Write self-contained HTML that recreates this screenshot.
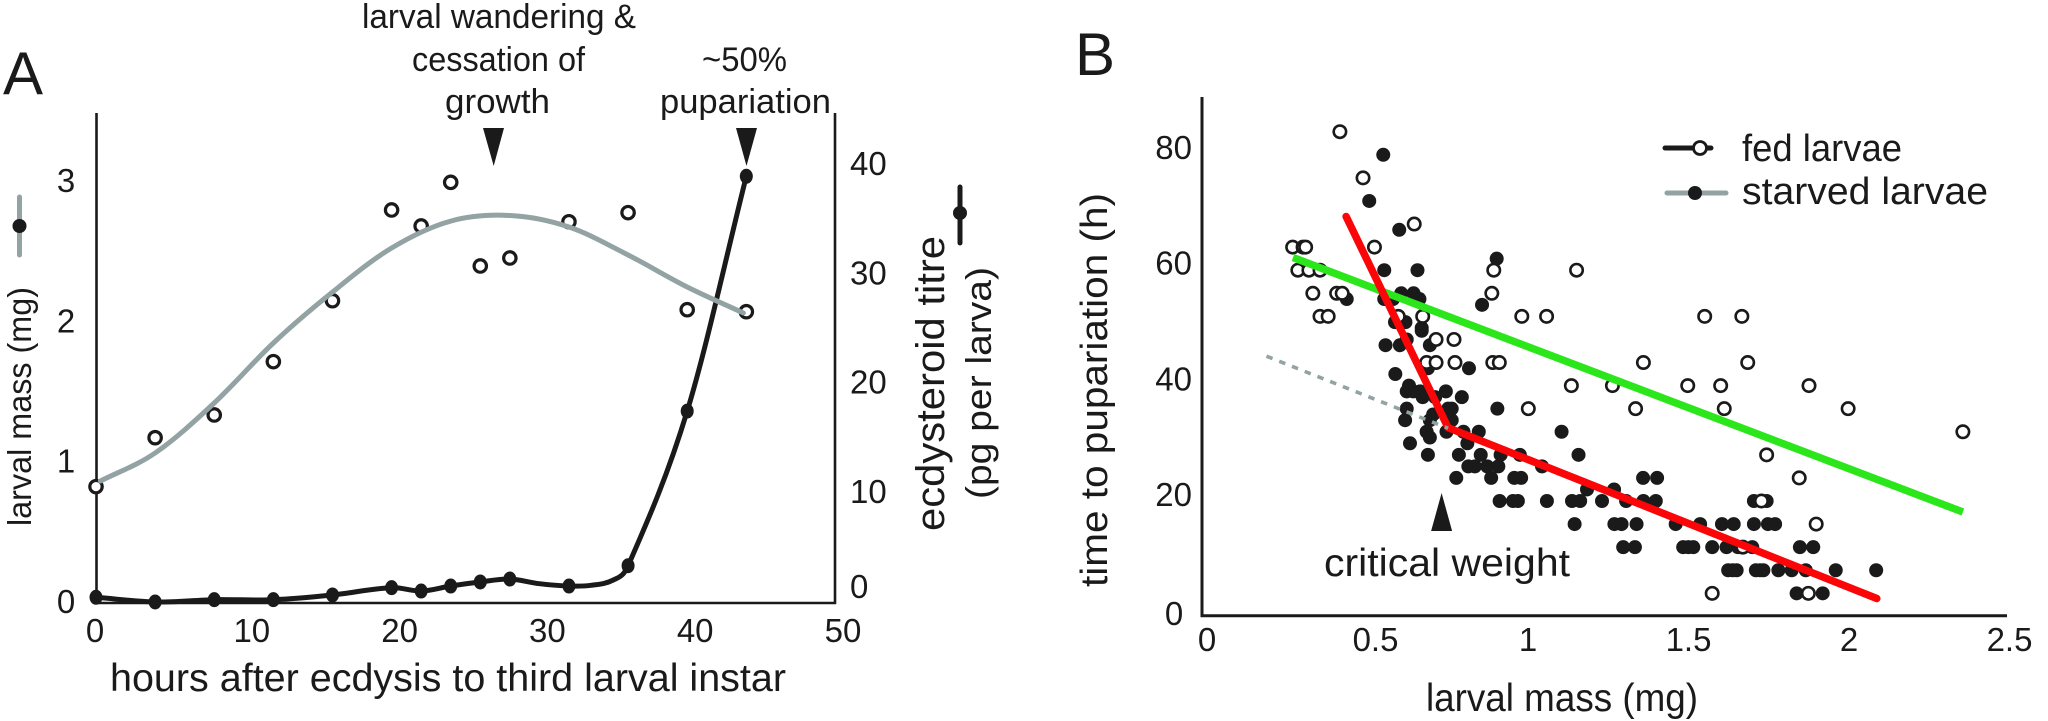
<!DOCTYPE html>
<html lang="en">
<head>
<meta charset="utf-8">
<title>Larval growth and critical weight</title>
<style>
html,body{margin:0;padding:0;background:#fff;}
body{width:2048px;height:721px;overflow:hidden;}
svg{display:block;}
text{font-family:"Liberation Sans",sans-serif;fill:#1a1a1a;}
</style>
</head>
<body>
<svg id="fig" xmlns="http://www.w3.org/2000/svg" width="2048" height="721" viewBox="0 0 2048 721">
  <rect x="0" y="0" width="2048" height="721" fill="#fff"/>
  <g id="panelA">
    <text x="3" y="94" font-size="60">A</text>
    <line x1="96.5" y1="113" x2="96.5" y2="604" stroke="#1a1a1a" stroke-width="2.6"/>
    <line x1="835" y1="113" x2="835" y2="604" stroke="#1a1a1a" stroke-width="2.6"/>
    <line x1="95" y1="603" x2="836" y2="603" stroke="#1a1a1a" stroke-width="2.6"/>
    <text x="362" y="28" font-size="34" textLength="274" lengthAdjust="spacingAndGlyphs">larval wandering &amp;</text>
    <text x="412" y="71" font-size="34" textLength="173" lengthAdjust="spacingAndGlyphs">cessation of</text>
    <text x="445" y="113" font-size="34" textLength="105" lengthAdjust="spacingAndGlyphs">growth</text>
    <text x="702" y="71" font-size="34" textLength="85" lengthAdjust="spacingAndGlyphs">~50%</text>
    <text x="660" y="113" font-size="34" textLength="171" lengthAdjust="spacingAndGlyphs">pupariation</text>
    <polygon points="483,128 504,128 493.7,166" fill="#1a1a1a"/>
    <polygon points="736,128 757,128 746.5,166" fill="#1a1a1a"/>
    <text x="110" y="691" font-size="39" textLength="676" lengthAdjust="spacingAndGlyphs">hours after ecdysis to third larval instar</text>
    <text transform="translate(31,526) rotate(-90)" font-size="33" textLength="239" lengthAdjust="spacingAndGlyphs">larval mass (mg)</text>
    <text transform="translate(944,531) rotate(-90)" font-size="40" textLength="295" lengthAdjust="spacingAndGlyphs">ecdysteroid titre</text>
    <text transform="translate(991,499) rotate(-90)" font-size="36" textLength="232" lengthAdjust="spacingAndGlyphs">(pg per larva)</text>
    <line x1="19.5" y1="197" x2="19.5" y2="255" stroke="#93a3a3" stroke-width="5" stroke-linecap="round"/>
    <circle cx="19.5" cy="226" r="7" fill="#1a1a1a"/>
    <line x1="960" y1="187" x2="960" y2="243" stroke="#1a1a1a" stroke-width="5" stroke-linecap="round"/>
    <circle cx="960" cy="213" r="7" fill="#1a1a1a"/>
  </g>
  <g id="panelB">
    <text x="1075" y="75" font-size="60">B</text>
    <line x1="1202" y1="97" x2="1202" y2="617" stroke="#1a1a1a" stroke-width="3"/>
    <line x1="1200.5" y1="615.7" x2="2007" y2="615.7" stroke="#1a1a1a" stroke-width="3"/>
    <text x="1426" y="711" font-size="39" textLength="272" lengthAdjust="spacingAndGlyphs">larval mass (mg)</text>
    <text transform="translate(1107,587) rotate(-90)" font-size="38" textLength="394" lengthAdjust="spacingAndGlyphs">time to pupariation (h)</text>
    <text x="1324" y="576" font-size="39" textLength="246" lengthAdjust="spacingAndGlyphs">critical weight</text>
    <line x1="1665" y1="148" x2="1711" y2="148" stroke="#1a1a1a" stroke-width="5" stroke-linecap="round"/>
    <circle cx="1700" cy="148" r="6.5" fill="#fff" stroke="#1a1a1a" stroke-width="2.8"/>
    <text x="1742" y="161" font-size="38" textLength="160" lengthAdjust="spacingAndGlyphs">fed larvae</text>
    <line x1="1667" y1="193" x2="1726" y2="193" stroke="#93a3a3" stroke-width="5" stroke-linecap="round"/>
    <circle cx="1695" cy="193" r="7" fill="#1a1a1a"/>
    <text x="1742" y="204" font-size="38" textLength="246" lengthAdjust="spacingAndGlyphs">starved larvae</text>
  </g>
</svg>
<script>
// Panel A data
var aHourTicks = [0, 10, 20, 30, 40, 50];
var aMassTicks = [0, 1, 2, 3];
var aTitreTicks = [0, 10, 20, 30, 40];
var sampleHours = [0, 4, 8, 12, 16, 20, 22, 24, 26, 28, 32, 36, 40, 44];
var massValues = [0.815, 1.164, 1.326, 1.706, 2.14, 2.787, 2.673, 2.984, 2.388, 2.445, 2.703, 2.768, 2.076, 2.062];
var titreValues = [0.25, -0.18, 0.03, 0.03, 0.46, 1.13, 0.82, 1.28, 1.65, 1.92, 1.28, 3.14, 17.3, 38.8];
var massFitHours = [0.3, 4, 8, 12, 16, 20, 24, 28, 32, 36, 40, 43.8];
var massFitValues = [0.855, 1.055, 1.411, 1.839, 2.202, 2.516, 2.708, 2.748, 2.666, 2.466, 2.238, 2.053];
var titreFitHours = [0, 4, 8, 12, 16, 20, 22, 24, 26, 28, 30, 32, 33.5, 35, 36, 40, 44];
var titreFitValues = [0.25, -0.18, 0.03, 0.03, 0.46, 1.13, 0.82, 1.28, 1.65, 1.92, 1.49, 1.28, 1.35, 1.83, 3.14, 17.3, 38.8];

// Panel B data
var bMassTicks = [0, 0.5, 1, 1.5, 2, 2.5];
var bHourTicks = [0, 20, 40, 60, 80];
var fedMass = [0.423,0.494,0.651,0.529,0.278,0.310,0.318,0.294,0.328,0.362,0.895,1.149,0.340,0.413,0.430,0.889,0.362,0.387,0.602,0.677,0.981,1.057,1.542,1.656,0.718,0.773,0.689,0.718,0.776,0.892,0.912,1.354,1.674,1.133,1.259,1.490,1.591,1.862,1.001,1.330,1.602,1.982,2.334,1.732,1.832,1.716,1.884,1.659,1.565,1.860];
var fedHours = [84,76,68,64,64,64,64,60,60,60,60,60,56,56,56,56,52,52,52,52,52,52,52,52,48,48,44,44,44,44,44,44,44,40,40,40,40,40,36,36,36,36,32,28,24,20,16,12,4,4];
var starvedMass = [0.556,0.513,0.605,0.904,0.559,0.661,0.444,0.559,0.586,0.667,0.859,0.611,0.649,0.592,0.624,0.674,0.563,0.607,0.628,0.674,0.699,0.693,0.593,0.635,0.628,0.648,0.669,0.677,0.715,0.748,0.797,0.628,0.623,0.709,0.755,0.766,0.766,0.699,0.689,0.699,0.750,0.638,0.693,0.788,0.780,0.802,0.849,1.103,0.814,0.855,0.916,0.975,1.155,0.817,0.837,0.875,0.909,1.043,0.887,0.958,0.979,1.353,1.396,0.819,0.906,1.181,1.264,0.913,0.954,0.969,1.058,1.135,1.160,1.227,1.301,1.354,1.392,1.693,1.732,1.143,1.265,1.287,1.333,1.453,1.528,1.595,1.631,1.693,1.736,1.758,1.292,1.328,1.476,1.492,1.507,1.565,1.609,1.644,1.688,1.834,1.875,1.614,1.628,1.640,1.699,1.712,1.722,1.768,1.809,1.852,1.944,2.068,1.824,1.904];
var starvedHours = [80,72,67,62,60,60,55,55,55,55,54,56,56,51,51,50,47,47,48,49.5,47,43,42,40,39,39,39,38,38,39,38,36,34,35,36,36,34,34,32,31,32,30,28,28,24,32,32,32,30,28,28,28,28,26,26,26,26,26,24,24,24,24,24,43,36,22,22,20,20,20,20,20,20,20,20,20,20,20,20,16,16,16,16,16,16,16,16,16,16,16,12,12,12,12,12,12,12,12,12,12,12,8,8,8,8,8,8,8,8,8,8,8,4,4];
var fedFitMass = [0.279, 2.334];
var fedFitHours = [62.2, 18.1];
var starvedFitMass = [0.442, 0.755, 2.07];
var starvedFitHours = [69.3, 32.7, 3.1];
var extrapolationMass = [0.198, 0.755];
var extrapolationHours = [45.1, 32.6];
var criticalWeightMass = 0.735;

// Axis functions
function xA(t) { return 96 + 14.78 * t; }
function yMass(m) { return 601 - 140.3 * m; }
function yTitre(v) { return 600 - 10.92 * v; }
function xB(m) { return 1202 + 326 * m; }
function yB(h) { return 616.4 - 5.77 * h; }
function xBLabel(m) { return 1207 + 321 * m; }
function yBLabel(h) { return 610 - 5.79 * h; }

var NS = 'http://www.w3.org/2000/svg';
var panelA = document.getElementById('panelA');
var panelB = document.getElementById('panelB');

function make(tag, parent) {
  var el = document.createElementNS(NS, tag);
  parent.appendChild(el);
  return el;
}
function tickText(parent, x, y, anchor, label) {
  var t = make('text', parent);
  t.setAttribute('x', x);
  t.setAttribute('y', y);
  t.setAttribute('font-size', 33);
  t.setAttribute('text-anchor', anchor);
  t.textContent = label;
  return t;
}
// Hermite spline with finite-difference slopes, parameterised by x so uneven knots do not wiggle
function smoothPath(xs, ys) {
  var n = xs.length;
  var slope = xs.map(function (x, i) {
    var a = Math.max(i - 1, 0), b = Math.min(i + 1, n - 1);
    return (ys[b] - ys[a]) / (xs[b] - xs[a]);
  });
  var d = 'M' + xs[0].toFixed(1) + ' ' + ys[0].toFixed(1);
  for (var i = 0; i < n - 1; i++) {
    var h = (xs[i + 1] - xs[i]) / 3;
    d += 'C' + (xs[i] + h).toFixed(1) + ' ' + (ys[i] + slope[i] * h).toFixed(1) + ' ' +
         (xs[i + 1] - h).toFixed(1) + ' ' + (ys[i + 1] - slope[i + 1] * h).toFixed(1) + ' ' +
         xs[i + 1].toFixed(1) + ' ' + ys[i + 1].toFixed(1);
  }
  return d;
}
function polyPoints(ms, hs) {
  return ms.map(function (m, i) { return xB(m).toFixed(1) + ',' + yB(hs[i]).toFixed(1); }).join(' ');
}

// Panel A ticks
aHourTicks.forEach(function (v) {
  var tick = tickText(panelA, v === 0 ? xA(v) - 1 : xA(v) + 8, 642, 'middle', String(v));
  
  
});
aMassTicks.forEach(function (v) {
  var tick = tickText(panelA, 66, yMass(v) + 12, 'middle', String(v));
  
  
});
aTitreTicks.forEach(function (v) {
  var tick = tickText(panelA, 850, v === 0 ? yTitre(v) - 2 : yTitre(v) + 12, 'start', String(v));
  
  
});

// Panel A series
var titreLine = make('path', panelA);
titreLine.setAttribute('d', smoothPath(titreFitHours.map(xA), titreFitValues.map(yTitre)));
titreLine.setAttribute('fill', 'none');
titreLine.setAttribute('stroke', '#1a1a1a');
titreLine.setAttribute('stroke-width', 5);



sampleHours.forEach(function (t, i) {
  var dot = make('ellipse', panelA);
  dot.setAttribute('cx', xA(t));
  dot.setAttribute('cy', yTitre(titreValues[i]));
  dot.setAttribute('rx', 6.5);
  dot.setAttribute('ry', 7.5);
  dot.setAttribute('fill', '#1a1a1a');
  
  
});
sampleHours.forEach(function (t, i) {
  var ring = make('circle', panelA);
  ring.setAttribute('cx', xA(t));
  ring.setAttribute('cy', yMass(massValues[i]));
  ring.setAttribute('r', 6.2);
  ring.setAttribute('fill', '#fff');
  ring.setAttribute('stroke', '#1a1a1a');
  ring.setAttribute('stroke-width', 3.2);
  
  
});
var massLine = make('path', panelA);
massLine.setAttribute('d', smoothPath(massFitHours.map(xA), massFitValues.map(yMass)));
massLine.setAttribute('fill', 'none');
massLine.setAttribute('stroke', '#93a3a3');
massLine.setAttribute('stroke-width', 5);
massLine.setAttribute('stroke-linecap', 'round');



// Panel B ticks
bMassTicks.forEach(function (v) {
  var tick = tickText(panelB, v === 0.5 ? xBLabel(v) + 8 : xBLabel(v), 651, 'middle', String(v));
  
  
});
bHourTicks.forEach(function (v) {
  var tick = tickText(panelB, v === 0 ? 1174 : 1192, v === 0 ? 625 : yBLabel(v) + 12, v === 0 ? 'middle' : 'end', String(v));
  
  
});

// Panel B points
starvedMass.forEach(function (m, i) {
  var dot = make('circle', panelB);
  dot.setAttribute('cx', xB(m));
  dot.setAttribute('cy', yB(starvedHours[i]));
  dot.setAttribute('r', 7);
  dot.setAttribute('fill', '#1a1a1a');
  
  
});
fedMass.forEach(function (m, i) {
  var ring = make('circle', panelB);
  ring.setAttribute('cx', xB(m));
  ring.setAttribute('cy', yB(fedHours[i]));
  ring.setAttribute('r', 6.2);
  ring.setAttribute('fill', '#fff');
  ring.setAttribute('stroke', '#1a1a1a');
  ring.setAttribute('stroke-width', 2.6);
  
  
});

// Panel B fits
var fedFit = make('polyline', panelB);
fedFit.setAttribute('points', polyPoints(fedFitMass, fedFitHours));
fedFit.setAttribute('fill', 'none');
fedFit.setAttribute('stroke', '#2be61a');
fedFit.setAttribute('stroke-width', 7.5);



var starvedFit = make('polyline', panelB);
starvedFit.setAttribute('points', polyPoints(starvedFitMass, starvedFitHours));
starvedFit.setAttribute('fill', 'none');
starvedFit.setAttribute('stroke', '#fb0508');
starvedFit.setAttribute('stroke-width', 7.5);
starvedFit.setAttribute('stroke-linecap', 'round');
starvedFit.setAttribute('stroke-linejoin', 'round');



var extrapolation = make('polyline', panelB);
extrapolation.setAttribute('points', polyPoints(extrapolationMass, extrapolationHours));
extrapolation.setAttribute('fill', 'none');
extrapolation.setAttribute('stroke', '#93a3a3');
extrapolation.setAttribute('stroke-width', 3.6);
extrapolation.setAttribute('stroke-dasharray', '6.5 7.2');



var cwX = xB(criticalWeightMass);
var cwArrow = make('polygon', panelB);
cwArrow.setAttribute('points', cwX + ',493 ' + (cwX - 10.5) + ',531 ' + (cwX + 10.5) + ',531');
cwArrow.setAttribute('fill', '#1a1a1a');


</script>
</body>
</html>
